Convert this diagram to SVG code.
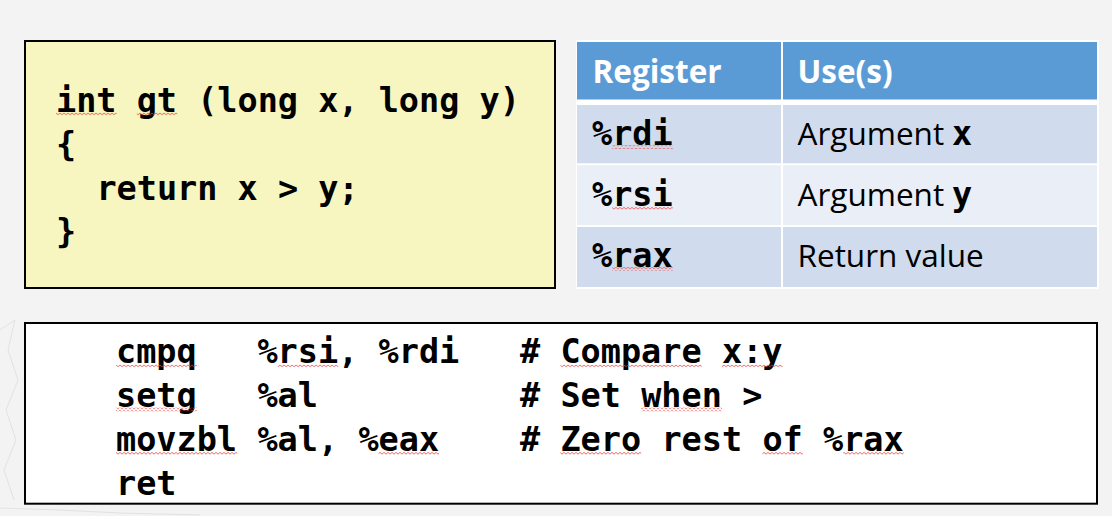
<svg xmlns="http://www.w3.org/2000/svg" width="1112" height="516" viewBox="0 0 1112 516">
  <defs>
    <pattern id="squiggle" patternUnits="userSpaceOnUse" width="4" height="3.5">
      <path d="M0,0.8 L2,2.8 L4,0.8" fill="none" stroke="#e8413f" stroke-width="0.8"/>
    </pattern>
    <style>
      .code { font-family: "DejaVu Sans Mono", "Liberation Mono", monospace; font-weight: bold; font-size: 33.5px; fill: #000; }
      .hdr { font-family: "Open Sans", "Noto Sans", "Liberation Sans", sans-serif; font-weight: bold; font-size: 31.5px; fill: #fff; }
      .cell { font-family: "Open Sans", "Noto Sans", "Liberation Sans", sans-serif; font-size: 31.5px; fill: #000; }
      .sq { fill: url(#squiggle); }
      .box { stroke: #000; stroke-width: 2; }
    </style>
  </defs>

  <rect x="0" y="0" width="1112" height="516" fill="#f3f3f3"/>
  <!-- faint background sketch -->
  <g stroke="#e2e2e2" stroke-width="1" fill="none">
    <path d="M0,330 L15,320 L8,350 L18,380 L6,410 L16,440 L4,470 L14,500"/>
    <path d="M0,508 L60,510 L120,513 L200,515"/>
  </g>

  <g id="c-source">
    <rect class="box" x="25" y="41" width="530" height="247" fill="#f7f6c1"/>
    <text class="code" x="56" y="111.7">int gt (long x, long y)</text>
    <text class="code" x="56" y="155.6">{</text>
    <text class="code" x="96.4" y="199.5">return x &gt; y;</text>
    <text class="code" x="56" y="243.4">}</text>
    <rect class="sq" x="56" y="112.2" width="60.6" height="3.5"/>
    <rect class="sq" x="136.8" y="112.2" width="40.4" height="3.5"/>
  </g>

  <g id="register-table">
    <rect x="576" y="40" width="523" height="249" fill="#ffffff"/>
    <rect x="577" y="42" width="204" height="57.5" fill="#5b9bd5"/>
    <rect x="783" y="42" width="314" height="57.5" fill="#5b9bd5"/>
    <rect x="577" y="105" width="204" height="58.3" fill="#d0dcee"/>
    <rect x="783" y="105" width="314" height="58.3" fill="#d0dcee"/>
    <rect x="577" y="165.3" width="204" height="59.7" fill="#e9eef7"/>
    <rect x="783" y="165.3" width="314" height="59.7" fill="#e9eef7"/>
    <rect x="577" y="227" width="204" height="60" fill="#d0dcee"/>
    <rect x="783" y="227" width="314" height="60" fill="#d0dcee"/>

    <text class="hdr" x="592.5" y="83">Register</text>
    <text class="hdr" x="797.5" y="83">Use(s)</text>

    <text class="code" x="592" y="144.8">%rdi</text>
    <text class="code" x="592" y="205.8">%rsi</text>
    <text class="code" x="592" y="266.7">%rax</text>
    <rect class="sq" x="612.2" y="145.3" width="60.6" height="3.5"/>
    <rect class="sq" x="612.2" y="206.3" width="60.6" height="3.5"/>
    <rect class="sq" x="612.2" y="267.2" width="60.6" height="3.5"/>

    <text class="cell" x="797.5" y="144.8">Argument</text>
    <text class="code" x="952" y="144.8">x</text>
    <text class="cell" x="797.5" y="205.8">Argument</text>
    <text class="code" x="952" y="205.8">y</text>
    <text class="cell" x="797.5" y="266.7">Return value</text>
  </g>

  <g id="asm-code">
    <rect class="box" x="25" y="323" width="1072" height="180.7" fill="#ffffff"/>
    <text class="code" y="363.3"><tspan x="116">cmpq</tspan><tspan x="257.4">%rsi,</tspan><tspan x="378.6">%rdi</tspan><tspan x="520">#</tspan><tspan x="560.4">Compare</tspan><tspan x="722">x:y</tspan></text>
    <text class="code" y="407.2"><tspan x="116">setg</tspan><tspan x="257.4">%al</tspan><tspan x="520">#</tspan><tspan x="560.4">Set</tspan><tspan x="641.2">when</tspan><tspan x="742.2">&gt;</tspan></text>
    <text class="code" y="451.1"><tspan x="116">movzbl</tspan><tspan x="257.4">%al,</tspan><tspan x="358.4">%eax</tspan><tspan x="520">#</tspan><tspan x="560.4">Zero</tspan><tspan x="661.4">rest</tspan><tspan x="762.4">of</tspan><tspan x="823">%rax</tspan></text>
    <text class="code" y="495"><tspan x="116">ret</tspan></text>

    <rect class="sq" x="116" y="363.8" width="80.8" height="3.5"/>
    <rect class="sq" x="277.6" y="363.8" width="60.6" height="3.5"/>
    <rect class="sq" x="560.4" y="363.8" width="141.4" height="3.5"/>
    <rect class="sq" x="722" y="363.8" width="60.6" height="3.5"/>
    <rect class="sq" x="116" y="407.7" width="80.8" height="3.5"/>
    <rect class="sq" x="641.2" y="407.7" width="80.8" height="3.5"/>
    <rect class="sq" x="116" y="451.6" width="121.2" height="3.5"/>
    <rect class="sq" x="378.6" y="451.6" width="60.6" height="3.5"/>
    <rect class="sq" x="560.4" y="451.6" width="80.8" height="3.5"/>
    <rect class="sq" x="762.4" y="451.6" width="40.4" height="3.5"/>
    <rect class="sq" x="843.2" y="451.6" width="60.6" height="3.5"/>
  </g>

  <g id="connectors"/>
</svg>
